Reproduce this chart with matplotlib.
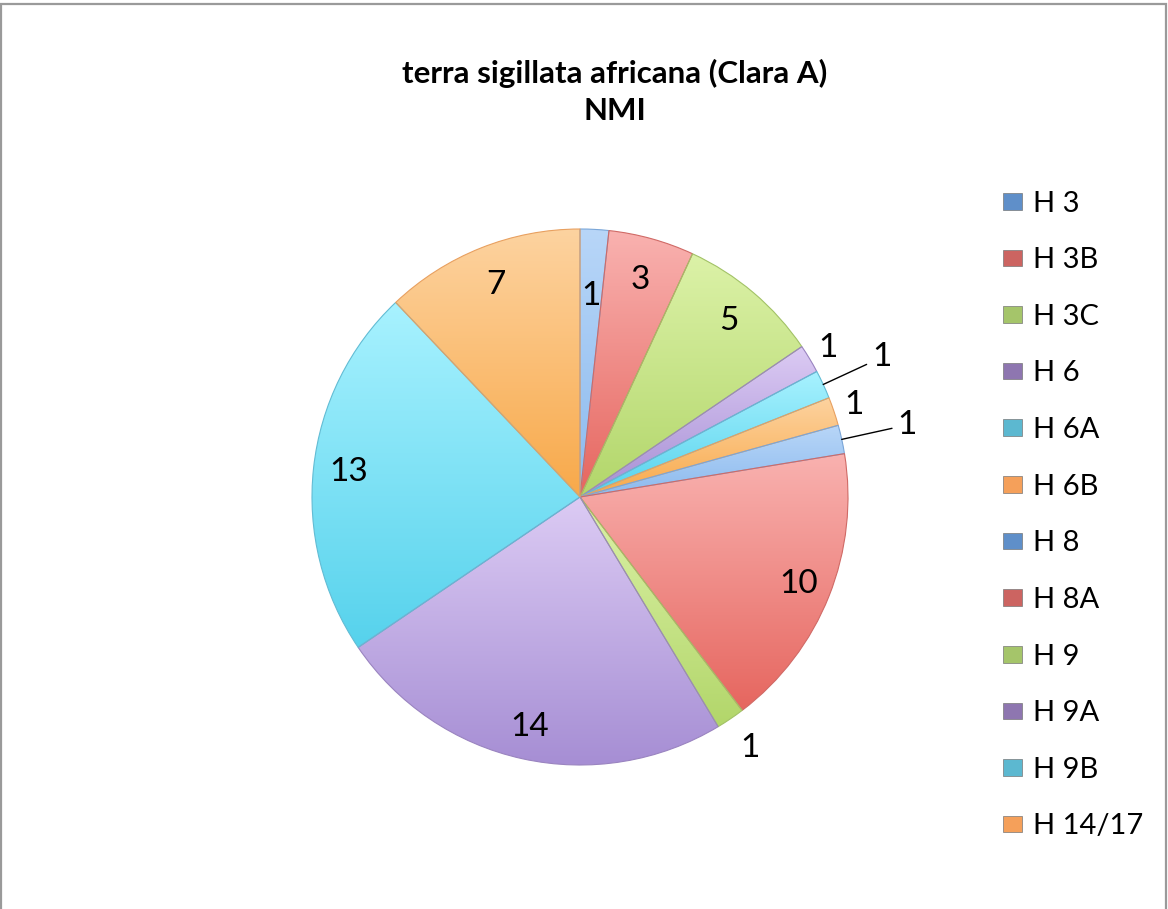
import numpy as np
import matplotlib
matplotlib.use("Agg")
import matplotlib.pyplot as plt
from matplotlib.colors import LinearSegmentedColormap
from matplotlib.patches import Rectangle

plt.rcParams['font.family'] = ['Lato', 'DejaVu Sans']

# data
labels = ["H 3", "H 3B", "H 3C", "H 6", "H 6A", "H 6B", "H 8", "H 8A",
          "H 9", "H 9A", "H 9B", "H 14/17"]
values = [1, 3, 5, 1, 1, 1, 1, 10, 1, 14, 13, 7]

# gradient colours (top, bottom) per colour family
top_cols = {"blue": "#b8d6f8", "red": "#f9b2b0", "green": "#dcf2a8",
            "purple": "#dccbf4", "aqua": "#a8f2ff", "orange": "#fdd3a0"}
bot_cols = {"blue": "#8cbaee", "red": "#e6665f", "green": "#b2d66a",
            "purple": "#a68ed4", "aqua": "#56d2ec", "orange": "#f8a94a"}
edge_cols = {"blue": "#7aa6d8", "red": "#d06a66", "green": "#a2c266",
             "purple": "#9a84c0", "aqua": "#62bcd4", "orange": "#e8a060"}
legend_cols = {"blue": "#5f8fc9", "red": "#cc6461", "green": "#a5c56a",
               "purple": "#8e76b0", "aqua": "#5cb8d0", "orange": "#f5a05a"}
families = ["blue", "red", "green", "purple", "aqua", "orange"]

# label radius (fraction of R) and leader flag
label_r = [0.75, 0.84, 0.86, 1.08, 1.24, 1.08, 1.25, 0.88, 1.13, 0.88, 0.87, 0.85]
leader = [False, False, False, False, True, False, True, False, False, False, False, False]

W, H = 1168, 909
fig = plt.figure(figsize=(W / 100, H / 100), dpi=100)

# outer frame
fig.add_artist(Rectangle((1 / W, -0.01), 1165 / W, 1.0 - 3.5 / H + 0.01,
                         transform=fig.transFigure, fill=False,
                         edgecolor="#9a9a9a", lw=1.6))

cx, cy, R = 580, H - 497, 268
ax = fig.add_axes([(cx - R) / W, (cy - R) / H, 2 * R / W, 2 * R / H])

wedges, _ = ax.pie(values, startangle=90, counterclock=False, radius=1,
                   wedgeprops=dict(linewidth=0.8))

grad = np.linspace(0, 1, 256).reshape(-1, 1)
for i, w in enumerate(wedges):
    fam = families[i % 6]
    w.set_facecolor("none")
    w.set_edgecolor(edge_cols[fam])
    w.set_zorder(3)
    bb = w.get_path().get_extents()
    cmap = LinearSegmentedColormap.from_list("g", [top_cols[fam], bot_cols[fam]])
    im = ax.imshow(grad, cmap=cmap, extent=(bb.x0, bb.x1, bb.y0, bb.y1),
                   origin="upper", aspect="auto", zorder=2)
    im.set_clip_path(w)

# data labels
total = sum(values)
cum = np.cumsum([0] + values)
for i, v in enumerate(values):
    theta = np.deg2rad((cum[i] + v / 2) / total * 360)
    r = label_r[i]
    x, y = r * np.sin(theta), r * np.cos(theta)
    if leader[i]:
        ax.annotate(str(v), xy=(np.sin(theta), np.cos(theta)), xytext=(x, y),
                    ha="center", va="center", fontsize=24,
                    arrowprops=dict(arrowstyle="-", color="black", lw=1,
                                    shrinkA=2, shrinkB=0), zorder=5)
    else:
        ax.text(x, y, str(v), ha="center", va="center", fontsize=24, zorder=5)

ax.set_xlim(-1, 1)
ax.set_ylim(-1, 1)
ax.set_aspect("auto")
ax.axis("off")

fig.text(615 / W, 1 - 92 / H, "terra sigillata africana (Clara A)\nNMI",
         ha="center", va="center", fontsize=22.5, fontweight="bold",
         linespacing=1.4)

handles = [Rectangle((0, 0), 1, 1, facecolor=legend_cols[families[i % 6]],
                     edgecolor="#777777", lw=0.5) for i in range(len(labels))]
fig.legend(handles, labels, loc="upper left", bbox_to_anchor=(988 / W, 1 - 176 / H),
           frameon=False, fontsize=21, labelspacing=1.05, handlelength=0.68,
           handleheight=0.5, handletextpad=0.35, borderpad=0)

fig.savefig("out.png", dpi=100)
